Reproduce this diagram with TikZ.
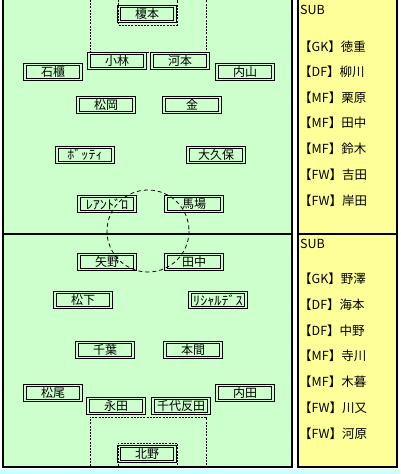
\documentclass[tikz,border=0pt]{standalone}
\usepackage{graphicx}
\usepackage{fontspec}
\setmainfont{Noto Sans CJK JP}
\usetikzlibrary{positioning}
\definecolor{pitchgreen}{HTML}{CCFFCC}
\definecolor{benchyellow}{HTML}{FFFF99}
\definecolor{stripcyan}{HTML}{CCFFFF}
\newcommand{\halfwidth}[1]{\scalebox{1.18}[1.05]{#1}}
\tikzset{
    player/.style={rectangle, draw=black, line width=0.8pt, double=pitchgreen, double distance=1.6pt, fill=pitchgreen, minimum width=56pt, minimum height=15pt, inner sep=0pt, text centered, font=\fontsize{12}{12}\selectfont},
    benchname/.style={anchor=west, inner sep=0pt, font=\fontsize{12.5}{13}\selectfont},
    borderline/.style={line width=2.6pt, color=black},
    arealine/.style={line width=0.8pt, dash pattern=on 2pt off 1.2pt},
    circleline/.style={line width=0.8pt, dash pattern=on 4pt off 3pt}
}

\begin{document}
\begin{tikzpicture}[x=1pt, y=-1pt]
    \useasboundingbox (0,0) rectangle (400,474);
    \fill[white] (0,0) rectangle (400,474);
    \fill[stripcyan] (0,469) rectangle (400,474);

    % pitch and bench panel
    \begin{scope}
        \clip (0,0) rectangle (400,474);
        \draw[borderline, fill=pitchgreen] (3,-5) rectangle (292,467);
        \draw[borderline] (3,234) -- (292,234);
        \draw[borderline, fill=benchyellow] (298,-5) rectangle (397,467);
        \draw[borderline] (298,234) -- (397,234);
    \end{scope}

    % top team
    \node (enomoto) [player] at (147,14) {榎本};
    \node (kobayashi) [player] at (117,61) {小林};
    \node (kawamoto) [player] at (180,61) {河本};
    \node (ishikashi) [player] at (53,72) {石櫃};
    \node (uchiyama) [player] at (245,72) {内山};
    \node (matsuoka) [player] at (106,105) {松岡};
    \node (kim) [player] at (192,105) {金};
    \node (botti) [player] at (85,155) {\halfwidth{ﾎﾞｯﾃｨ}};
    \node (okubo) [player] at (216,155) {大久保};
    \node (leandro) [player] at (107,204) {\halfwidth{ﾚｱﾝﾄﾞﾛ}};
    \node (baba) [player] at (194,204) {馬場};

    % bottom team
    \node (yano) [player] at (107,262) {矢野};
    \node (tanaka) [player] at (194,262) {田中};
    \node (matsushita) [player] at (83,300) {松下};
    \node (richardes) [player] at (218,300) {\halfwidth{ﾘｼｬﾙﾃﾞｽ}};
    \node (chiba) [player] at (105,350) {千葉};
    \node (honma) [player] at (193,350) {本間};
    \node (matsuo) [player] at (53,393) {松尾};
    \node (uchida) [player] at (245,393) {内田};
    \node (nagata) [player] at (116,406) {永田};
    \node (chiyotanda) [player] at (181,406) {千代反田};
    \node (kitano) [player] at (147,454) {北野};

    % penalty and goal areas, centre circle
    \draw[arealine] (90,0) -- (90,52) -- (206,52) -- (206,0);
    \draw[arealine] (118,0) -- (118,25) -- (177,25) -- (177,0);
    \draw[arealine] (90,466) -- (90,417) -- (206,417) -- (206,466);
    \draw[arealine] (118,466) -- (118,443) -- (177,443) -- (177,466);
    \draw[circleline] (148,231) circle (41);

    % substitutes, top
    \node (subtop) [benchname] at (300,10) {SUB};
    \node (subtop1) [benchname] at (299,47) {【GK】徳重};
    \node (subtop2) [benchname] at (299,72) {【DF】柳川};
    \node (subtop3) [benchname] at (299,98) {【MF】栗原};
    \node (subtop4) [benchname] at (299,123) {【MF】田中};
    \node (subtop5) [benchname] at (299,149) {【MF】鈴木};
    \node (subtop6) [benchname] at (299,175) {【FW】吉田};
    \node (subtop7) [benchname] at (299,201) {【FW】岸田};

    % substitutes, bottom
    \node (subbot) [benchname] at (300,244) {SUB};
    \node (subbot1) [benchname] at (299,279) {【GK】野澤};
    \node (subbot2) [benchname] at (299,305) {【DF】海本};
    \node (subbot3) [benchname] at (299,331) {【DF】中野};
    \node (subbot4) [benchname] at (299,356) {【MF】寺川};
    \node (subbot5) [benchname] at (299,382) {【MF】木暮};
    \node (subbot6) [benchname] at (299,408) {【FW】川又};
    \node (subbot7) [benchname] at (299,434) {【FW】河原};
\end{tikzpicture}
\end{document}
